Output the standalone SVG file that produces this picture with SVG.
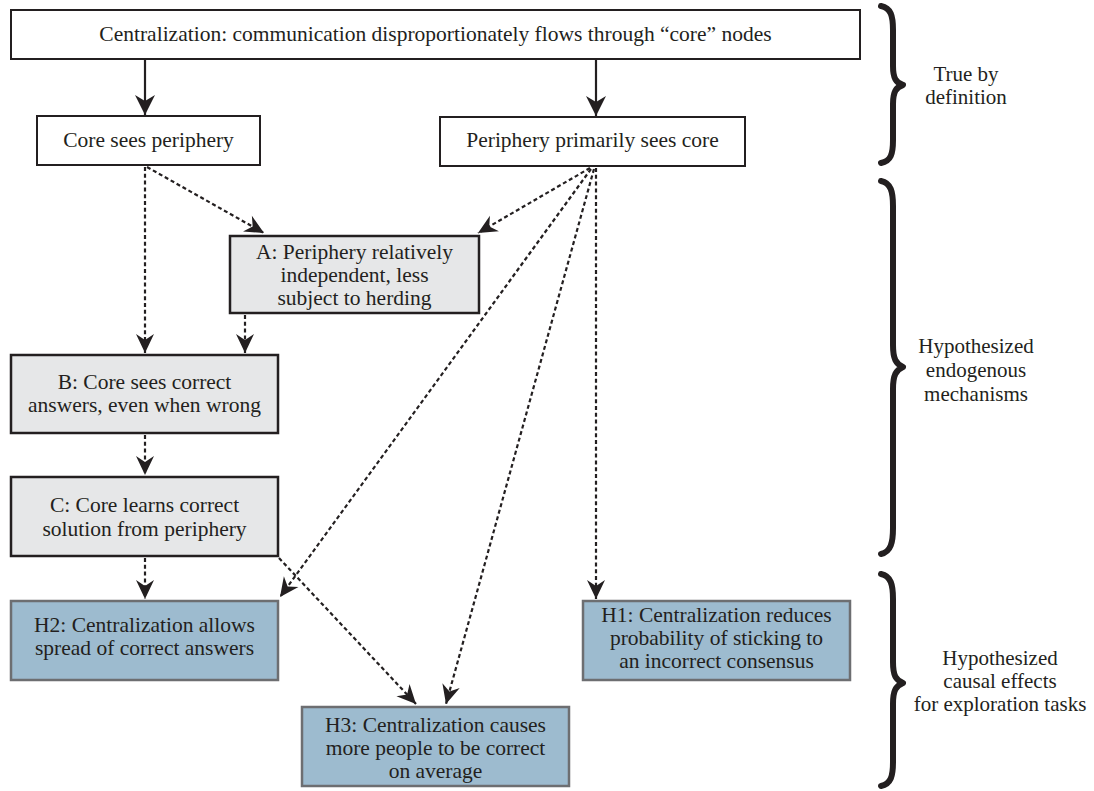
<svg xmlns="http://www.w3.org/2000/svg" width="1094" height="791" viewBox="0 0 1094 791">
  <style>
    text { font-family: "Liberation Serif", "Times New Roman", serif; font-size: 21.5px; fill: #231f20; text-anchor: middle; }
    .lbl { font-size: 21px; }
    .white { fill: #ffffff; stroke: #231f20; stroke-width: 2; }
    .grey { fill: #e6e7e8; stroke: #231f20; stroke-width: 2.5; }
    .blue { fill: #9dbbcf; stroke: #6d6e71; stroke-width: 2.5; }
    .solid { fill: none; stroke: #231f20; stroke-width: 2.2; }
    .dash { fill: none; stroke: #231f20; stroke-width: 2.2; stroke-dasharray: 4 2.8; }
    .brace { fill: none; stroke: #231f20; stroke-width: 6; stroke-linecap: round; stroke-linejoin: round; }
  </style>
  <defs>
    <marker id="ah" viewBox="-22 -12 24 24" refX="0" refY="0" markerWidth="24" markerHeight="24" markerUnits="userSpaceOnUse" orient="auto">
      <path d="M0,0 L-20,-10 L-14,0 L-20,10 Z" fill="#231f20"/>
    </marker>
    <marker id="ahs" viewBox="-22 -12 24 24" refX="0" refY="0" markerWidth="24" markerHeight="24" markerUnits="userSpaceOnUse" orient="auto">
      <path d="M0,0 L-19,-9 L-13,0 L-19,9 Z" fill="#231f20"/>
    </marker>
  </defs>

  <rect width="1094" height="791" fill="#ffffff"/>

  <g id="connectors">
    <line class="solid" x1="145" y1="60" x2="145" y2="115" marker-end="url(#ah)"/>
    <line class="solid" x1="596" y1="60" x2="596" y2="116" marker-end="url(#ah)"/>
    <line class="dash" x1="145" y1="167" x2="145" y2="353" marker-end="url(#ahs)"/>
    <line class="dash" x1="147" y1="167" x2="264" y2="233" marker-end="url(#ahs)"/>
    <line class="dash" x1="245" y1="315" x2="245" y2="353" marker-end="url(#ahs)"/>
    <line class="dash" x1="590" y1="168" x2="478" y2="233" marker-end="url(#ahs)"/>
    <line class="dash" x1="591" y1="169" x2="280" y2="597" marker-end="url(#ahs)"/>
    <line class="dash" x1="594" y1="169" x2="446" y2="704" marker-end="url(#ahs)"/>
    <line class="dash" x1="596" y1="168" x2="596" y2="599" marker-end="url(#ahs)"/>
    <line class="dash" x1="145" y1="435" x2="145" y2="475" marker-end="url(#ahs)"/>
    <line class="dash" x1="145" y1="558" x2="145" y2="599" marker-end="url(#ahs)"/>
    <line class="dash" x1="279" y1="558" x2="416" y2="704" marker-end="url(#ahs)"/>
  </g>

  <g id="node-centralization">
    <rect class="white" x="11" y="10" width="849" height="49"/>
    <text x="435.5" y="41">Centralization: communication disproportionately flows through “core” nodes</text>
  </g>
  <g id="node-core-sees-periphery">
    <rect class="white" x="37" y="116" width="223" height="49"/>
    <text x="148.5" y="147">Core sees periphery</text>
  </g>
  <g id="node-periphery-sees-core">
    <rect class="white" x="440" y="117" width="305" height="49"/>
    <text x="592.5" y="147">Periphery primarily sees core</text>
  </g>
  <g id="node-a">
    <rect class="grey" x="230" y="236" width="249" height="77"/>
    <text x="354.5" y="259">A: Periphery relatively</text>
    <text x="354.5" y="282">independent, less</text>
    <text x="354.5" y="305">subject to herding</text>
  </g>
  <g id="node-b">
    <rect class="grey" x="11" y="355" width="267" height="78"/>
    <text x="144.5" y="389">B: Core sees correct</text>
    <text x="144.5" y="412">answers, even when wrong</text>
  </g>
  <g id="node-c">
    <rect class="grey" x="11" y="477" width="267" height="79"/>
    <text x="144.5" y="512">C: Core learns correct</text>
    <text x="144.5" y="536">solution from periphery</text>
  </g>
  <g id="node-h2">
    <rect class="blue" x="11" y="601" width="267" height="79"/>
    <text x="144.5" y="632">H2: Centralization allows</text>
    <text x="144.5" y="655">spread of correct answers</text>
  </g>
  <g id="node-h1">
    <rect class="blue" x="583" y="601" width="267" height="79"/>
    <text x="716.5" y="622">H1: Centralization reduces</text>
    <text x="716.5" y="645">probability of sticking to</text>
    <text x="716.5" y="668">an incorrect consensus</text>
  </g>
  <g id="node-h3">
    <rect class="blue" x="302" y="707" width="267" height="79"/>
    <text x="435.5" y="732">H3: Centralization causes</text>
    <text x="435.5" y="755">more people to be correct</text>
    <text x="435.5" y="778">on average</text>
  </g>

  <g id="brace-definition">
    <path class="brace" d="M881,6 C891,8 893,16 893,30 L893,66 C893,78 896,83 903,85 C896,87 893,92 893,104 L893,140 C893,154 891,161 881,163"/>
    <text class="lbl" x="966" y="81">True by</text>
    <text class="lbl" x="966" y="104">definition</text>
  </g>
  <g id="brace-mechanisms">
    <path class="brace" d="M881,181 C891,183 893,192 893,206 L893,345 C893,359 896,364 903,367 C896,370 893,375 893,389 L893,528 C893,542 891,552 881,554"/>
    <text class="lbl" x="976" y="353">Hypothesized</text>
    <text class="lbl" x="976" y="377">endogenous</text>
    <text class="lbl" x="976" y="401">mechanisms</text>
  </g>
  <g id="brace-effects">
    <path class="brace" d="M881,574 C891,576 893,585 893,599 L893,662 C893,676 896,680 903,683 C896,686 893,690 893,704 L893,762 C893,776 891,784 881,786"/>
    <text class="lbl" x="1000" y="665">Hypothesized</text>
    <text class="lbl" x="1000" y="688">causal effects</text>
    <text class="lbl" x="1000" y="711">for exploration tasks</text>
  </g>
</svg>
